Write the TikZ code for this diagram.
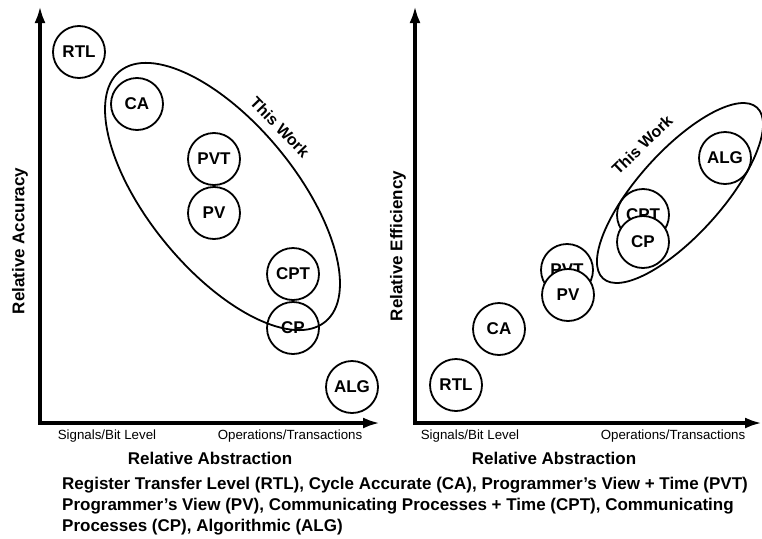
\documentclass[tikz,border=0pt]{standalone}
\usepackage{fontspec}
\setmainfont{Liberation Sans}
\usetikzlibrary{arrows.meta,shapes.geometric}
\begin{document}
\begin{tikzpicture}[x=1pt,y=-1pt,
  lvl/.style={circle,draw,line width=1.8pt,fill=white,minimum size=52pt,inner sep=0pt,font=\fontsize{17}{20}\selectfont\bfseries},
  axisline/.style={line width=3.5pt,line join=miter,{Latex[length=17pt,width=11pt]}-{Latex[length=17pt,width=11pt]}},
  workell/.style={ellipse,draw,line width=1.8pt,inner sep=0pt},
  worktxt/.style={font=\fontsize{16}{18}\selectfont\bfseries},
  smalllab/.style={font=\fontsize{13.3}{15}\selectfont},
  biglab/.style={font=\fontsize{17}{20}\selectfont\bfseries},
  captxt/.style={anchor=base west,inner sep=0pt,font=\fontsize{17}{20}\selectfont\bfseries}
]
\useasboundingbox[fill=white] (0,0) rectangle (762,538);

% ---------- left panel ----------
\coordinate (ly) at (40,6);
\coordinate (lo) at (40,423);
\coordinate (lx) at (380,423);
\draw[axisline] (ly) -- (lo) -- (lx);

\node[lvl] (lRTL) at (79,52) {RTL};
\node[lvl] (lCA) at (137,104) {CA};
\node[lvl] (lPVT) at (214,159) {PVT};
\node[lvl] (lPV) at (214,213) {PV};
\node[lvl] (lCPT) at (293,274) {CPT};
\node[lvl] (lCP) at (293,328) {CP};
\node[lvl] (lALG) at (352,387) {ALG};
\node[workell,minimum width=324pt,minimum height=147pt,rotate=-50.6] (lwork) at (222.5,196.5) {};
\node[worktxt,rotate=-46] (lworktxt) at (280,127) {This Work};

\node[biglab,rotate=90] (lylab) at (20,241) {Relative Accuracy};
\node[smalllab] (lsig) at (107,436) {Signals/Bit Level};
\node[smalllab] (lops) at (290,436) {Operations/Transactions};
\node[biglab] (lxlab) at (210,458) {Relative Abstraction};

% ---------- right panel ----------
\coordinate (ry) at (415,6);
\coordinate (ro) at (415,423);
\coordinate (rx) at (762,423);
\draw[axisline] (ry) -- (ro) -- (rx);

\node[lvl] (rRTL) at (456,385) {RTL};
\node[lvl] (rCA) at (499,329) {CA};
\node[lvl] (rPVT) at (567,270) {PVT};
\node[lvl] (rPV) at (568,295) {PV};
\node[lvl] (rCPT) at (643,215) {CPT};
\node[lvl] (rCP) at (643,242) {CP};
\node[lvl] (rALG) at (725,158) {ALG};
\node[workell,minimum width=230pt,minimum height=84pt,rotate=48] (rwork) at (680,193) {};
\node[worktxt,rotate=44] (rworktxt) at (642,145) {This Work};

\node[biglab,rotate=90] (rylab) at (398,246) {Relative Efficiency};
\node[smalllab] (rsig) at (470,436) {Signals/Bit Level};
\node[smalllab] (rops) at (673,436) {Operations/Transactions};
\node[biglab] (rxlab) at (554,458) {Relative Abstraction};

% ---------- caption ----------
\node[captxt] (cap1) at (62,489) {Register Transfer Level (RTL), Cycle Accurate (CA), Programmer’s View + Time (PVT)};
\node[captxt] (cap2) at (62,510) {Programmer’s View (PV), Communicating Processes + Time (CPT), Communicating};
\node[captxt] (cap3) at (62,531) {Processes (CP), Algorithmic (ALG)};
\end{tikzpicture}
\end{document}
